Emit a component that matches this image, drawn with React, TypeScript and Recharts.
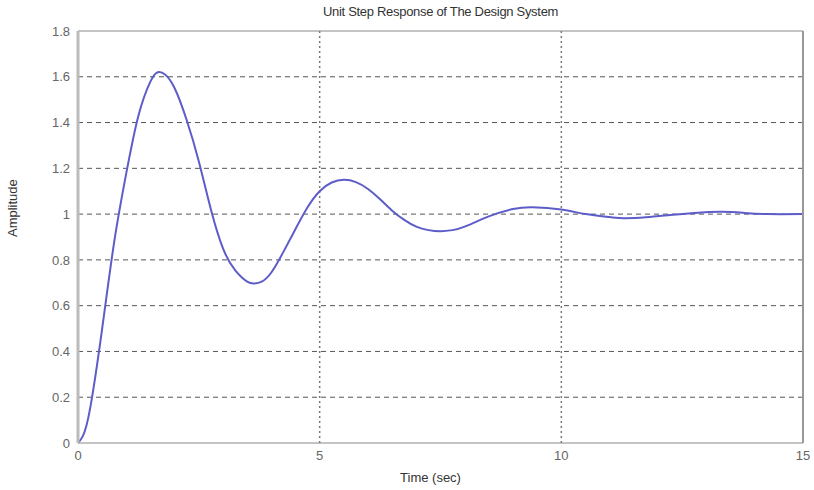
import { LineChart, Line, XAxis, YAxis, ReferenceLine } from "recharts";

const timeSec = [
  0, 0.1, 0.25, 0.5, 0.75, 1.0, 1.25, 1.5, 1.65, 1.8, 2.0, 2.25, 2.5, 2.75, 3.0,
  3.25, 3.5, 3.65, 3.8, 4.0, 4.25, 4.5, 4.75, 5.0, 5.25, 5.5, 5.75, 6.0, 6.25,
  6.5, 6.75, 7.0, 7.25, 7.5, 7.75, 8.0, 8.5, 9.0, 9.4, 10.0, 10.5, 11.0, 11.3,
  11.75, 12.25, 12.75, 13.3, 13.75, 14.25, 15,
];
const amplitude = [
  0, 0.03, 0.15, 0.5, 0.88, 1.18, 1.43, 1.58, 1.62, 1.61, 1.55, 1.41, 1.23,
  1.02, 0.85, 0.755, 0.705, 0.697, 0.705, 0.745, 0.835, 0.935, 1.03, 1.1, 1.138, 1.15,
  1.14, 1.11, 1.065, 1.015, 0.975, 0.945, 0.93, 0.925, 0.93, 0.945, 0.99, 1.022,
  1.03, 1.02, 1.0, 0.987, 0.982, 0.986, 0.996, 1.005, 1.01, 1.006, 1.0, 1.0,
];
const xTicks = [0, 5, 10, 15];
const yTicks = [0, 0.2, 0.4, 0.6, 0.8, 1, 1.2, 1.4, 1.6, 1.8];
const xGrid = [5, 10];
const yGrid = [0.2, 0.4, 0.6, 0.8, 1, 1.2, 1.4, 1.6];

const data = timeSec.map((t, i) => ({ t, y: amplitude[i] }));

const font = "'Liberation Sans', Arial, sans-serif";
const tickStyle = { fill: "#666", fontSize: 13, fontFamily: font };

export default function App() {
  return (
    <div style={{ position: "absolute", left: 0, top: 0, width: 814, height: 490, background: "#fff" }}>
      <div
        style={{
          position: "absolute",
          top: 4,
          left: 78,
          width: 725,
          textAlign: "center",
          fontFamily: font,
          fontSize: 13,
          color: "#333",
          letterSpacing: -0.3,
        }}
      >
        Unit Step Response of The Design System
      </div>
      <LineChart
        width={814}
        height={490}
        data={data}
        margin={{ top: 30, right: 10, bottom: 0, left: 0 }}
      >
        {yGrid.map((v) => (
          <ReferenceLine key={"h" + v} y={v} stroke="#555" strokeDasharray="5 4" />
        ))}
        {xGrid.map((v) => (
          <ReferenceLine key={"v" + v} x={v} stroke="#777" strokeWidth={1.5} strokeDasharray="2 3" />
        ))}
        <XAxis
          dataKey="t"
          type="number"
          domain={[0, 15]}
          ticks={xTicks}
          height={47}
          stroke="#888"
          tickLine={false}
          tickSize={0}
          tickMargin={8}
          tick={tickStyle}
          label={{ value: "Time (sec)", position: "insideBottom", offset: 8, dx: -10, fill: "#333", fontSize: 13, fontFamily: font }}
        />
        <XAxis xAxisId="top" orientation="top" type="number" domain={[0, 15]} height={1} tick={false} tickLine={false} stroke="#888" />
        <YAxis
          type="number"
          domain={[0, 1.8]}
          ticks={yTicks}
          width={78}
          stroke="#bbb"
          strokeWidth={3}
          tickLine={false}
          tickSize={0}
          tickMargin={8}
          tick={tickStyle}
          label={{ value: "Amplitude", angle: -90, position: "insideLeft", offset: 12, fill: "#333", fontSize: 13, fontFamily: font }}
        />
        <YAxis yAxisId="right" orientation="right" type="number" domain={[0, 1.8]} width={1} tick={false} tickLine={false} stroke="#999" strokeWidth={2} />
        <Line
          dataKey="y"
          type="natural"
          stroke="#5d5dc9"
          strokeWidth={2}
          dot={false}
          isAnimationActive={false}
        />
      </LineChart>
    </div>
  );
}
